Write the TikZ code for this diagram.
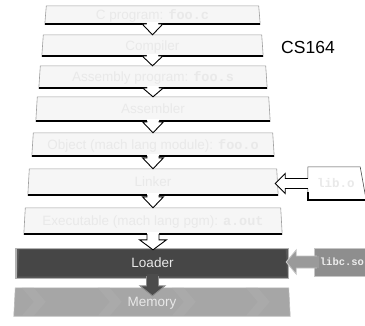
\documentclass[tikz,border=0pt]{standalone}
\usepackage{fontspec}
\setmainfont{Liberation Sans}
\setmonofont{Liberation Mono}
\usetikzlibrary{calc,backgrounds}
\definecolor{boxfill}{HTML}{F6F6F6}
\definecolor{boxtext}{HTML}{E9E9E9}
\definecolor{boxedge}{HTML}{A0A0A0}
\definecolor{loaderfill}{HTML}{464646}
\definecolor{loadertext}{HTML}{E8E8E8}
\definecolor{memfill}{HTML}{A6A6A6}
\definecolor{memlight}{HTML}{AAAAAA}
\definecolor{memtext}{HTML}{E8E8E8}
\definecolor{libcfill}{HTML}{8E8E8E}
\definecolor{libctext}{HTML}{EDEDED}
\definecolor{sidegray}{HTML}{9A9A9A}
\definecolor{sideedge}{HTML}{C4C4C4}
\definecolor{darkarrow}{HTML}{4C4C4C}
\definecolor{darkedge}{HTML}{8C8C8C}

\tikzset{
  stage/.style={inner sep=0pt, text=boxtext, font=\fontsize{13.5}{16}\selectfont,
    text height=9.7pt, text depth=0pt},
  sidebox/.style={inner sep=0pt, font=\ttfamily\bfseries\fontsize{12.5}{14}\selectfont,
    text height=7pt, text depth=0pt},
  title/.style={inner sep=0pt, font=\fontsize{17.5}{20}\selectfont, text=black},
  shadowline/.style={line width=1.8pt, black},
}

% block arrow pointing down: from, to, head length, tip offset, head half width, fill, line
\newcommand\blockdown[7]{%
  \fill[#6] let \p1=(#1.south), \p2=(#2.north) in
    (\x1-6pt,\y1+2pt) -- (\x1-6pt,\y2-#4+#3) -- (\x1-#5,\y2-#4+#3) -- (\x1,\y2-#4)
    -- (\x1+#5,\y2-#4+#3) -- (\x1+6pt,\y2-#4+#3) -- (\x1+6pt,\y1+2pt) -- cycle;
  \draw[#7, line width=0.9pt, line join=miter] let \p1=(#1.south), \p2=(#2.north) in
    (\x1-6pt,\y1) -- (\x1-6pt,\y2-#4+#3) -- (\x1-#5,\y2-#4+#3) -- (\x1,\y2-#4)
    -- (\x1+#5,\y2-#4+#3) -- (\x1+6pt,\y2-#4+#3) -- (\x1+6pt,\y1);
}
% block arrow pointing left: from, to, tip offset, shaft half, head half, head length, fill, line
\newcommand\blockleft[8]{%
  \fill[#7] let \p1=(#1.west), \p2=(#2.east) in
    (\x1+2pt,\y1+#4) -- (\x2-#3+#6,\y1+#4) -- (\x2-#3+#6,\y1+#5) -- (\x2-#3,\y1)
    -- (\x2-#3+#6,\y1-#5) -- (\x2-#3+#6,\y1-#4) -- (\x1+2pt,\y1-#4) -- cycle;
  \draw[#8, line width=0.9pt, line join=miter] let \p1=(#1.west), \p2=(#2.east) in
    (\x1,\y1+#4) -- (\x2-#3+#6,\y1+#4) -- (\x2-#3+#6,\y1+#5) -- (\x2-#3,\y1)
    -- (\x2-#3+#6,\y1-#5) -- (\x2-#3+#6,\y1-#4) -- (\x1,\y1-#4);
}
% trapezoid shape behind a node: name, fill, edge
\newcommand\stageshape[3]{%
  \filldraw[fill=#2, draw=#3, line width=0.6pt] (#1.south west) -- ([xshift=1.5pt]#1.north west)
    -- ([xshift=-1.5pt]#1.north east) -- (#1.south east) -- cycle;
}

\begin{document}
\begin{tikzpicture}[x=1pt,y=-1pt]
\begin{scope}[on background layer]
  \fill[white] (0,0) rectangle (365,325);
\end{scope}
\useasboundingbox (0,0) rectangle (365,325);

% stages
\node[stage, minimum width=215, minimum height=18] (b1) at (152.5,15) {C program: \texttt{\textbf{foo.c}}};
\node[stage, minimum width=221, minimum height=21] (b2) at (152.5,45.5) {Compiler};
\node[stage, minimum width=228, minimum height=22] (b3) at (153,77) {Assembly program: \texttt{\textbf{foo.s}}};
\node[stage, minimum width=234, minimum height=24] (b4) at (153,109) {Assembler};
\node[stage, minimum width=242, minimum height=23] (b5) at (153,144.5) {Object (mach lang module): \texttt{\textbf{foo.o}}};
\node[stage, minimum width=250, minimum height=26] (b6) at (153,182) {Linker};
\node[stage, minimum width=258, minimum height=26] (b7) at (153,221) {Executable (mach lang pgm): \texttt{\textbf{a.out}}};
\node[stage, text=loadertext, minimum width=269, minimum height=26] (ld) at (152.5,263) {Loader};
\node[stage, text=memtext, minimum width=276, minimum height=28] (mem) at (152,302) {Memory};

\node[sidebox, text=boxtext, minimum width=56, minimum height=33] (libo) at (336,183.5) {lib.o};
\node[sidebox, text=libctext, font=\ttfamily\bfseries\fontsize{10.5}{12}\selectfont,
      minimum width=50, minimum height=28] (libc) at (342,262) {libc.so};

\node[title] (cs) at (308,47) {CS164};

% shapes behind the nodes
\begin{scope}[on background layer]
  \foreach \n in {b1,b2,b3,b4,b5,b6,b7}{
    \stageshape{\n}{boxfill}{boxedge}
    \draw[shadowline] (\n.south west) -- (\n.south east);
  }
  % loader with soft dark edge
  \fill[black!30] ([shift={(-2.5pt,-2.5pt)}]ld.south west) rectangle ([shift={(1.5pt,2pt)}]ld.north east);
  \fill[black!65] ([shift={(-1.2pt,-1.5pt)}]ld.south west) rectangle ([shift={(0.8pt,1pt)}]ld.north east);
  \stageshape{ld}{loaderfill}{black!70}
  % memory with faint chevrons
  \stageshape{mem}{memfill}{gray!55}
  \begin{scope}
    \clip (mem.south west) -- ([xshift=1.5pt]mem.north west) -- ([xshift=-1.5pt]mem.north east) -- (mem.south east) -- cycle;
    \foreach \cx in {22,98,172,246}{
      \fill[memlight] (mem.north west) ++(\cx-14,0) -- ++(12,0) -- ++(12,14) -- ++(-12,14) -- ++(-12,0) -- ++(12,-14) -- cycle;
    }
  \end{scope}
  % lib.o box
  \filldraw[fill=white, draw=black!70, line width=0.6pt] (libo.south west) -- ([xshift=0pt]libo.north west)
     -- ([xshift=-4pt]libo.north east) -- ([xshift=2pt]libo.south east) -- cycle;
  \draw[shadowline] ([yshift=8pt]libo.south west) -- (libo.south west) -- ([xshift=2pt]libo.south east);
  % libc.so box
  \filldraw[fill=libcfill, draw=gray!45, line width=0.6pt] ([xshift=-3pt]libc.south west) rectangle ([xshift=8pt]libc.north east);
\end{scope}

% connectors
\blockdown{b1}{b2}{11pt}{0pt}{10.5pt}{white}{black}
\blockdown{b2}{b3}{10pt}{0pt}{10.5pt}{white}{black}
\blockdown{b3}{b4}{9pt}{0pt}{10.5pt}{white}{black}
\blockdown{b4}{b5}{11pt}{0pt}{10.5pt}{white}{black}
\blockdown{b5}{b6}{11pt}{0pt}{10.5pt}{white}{black}
\blockdown{b6}{b7}{11pt}{0pt}{10.5pt}{white}{black}
\blockdown{b7}{ld}{10pt}{0pt}{13.5pt}{white}{black}
\blockdown{ld}{mem}{10pt}{8pt}{12.5pt}{darkarrow}{darkedge}

\blockleft{libo}{b6}{3pt}{5pt}{10pt}{10pt}{white}{black}
\draw[shadowline] let \p1=(libo.west), \p2=(b6.east) in (\x1,\y1-5pt) -- (\x2+7pt,\y1-5pt);
\blockleft{libc}{ld}{1pt}{6pt}{12pt}{10pt}{sidegray}{sideedge}
\end{tikzpicture}
\end{document}
